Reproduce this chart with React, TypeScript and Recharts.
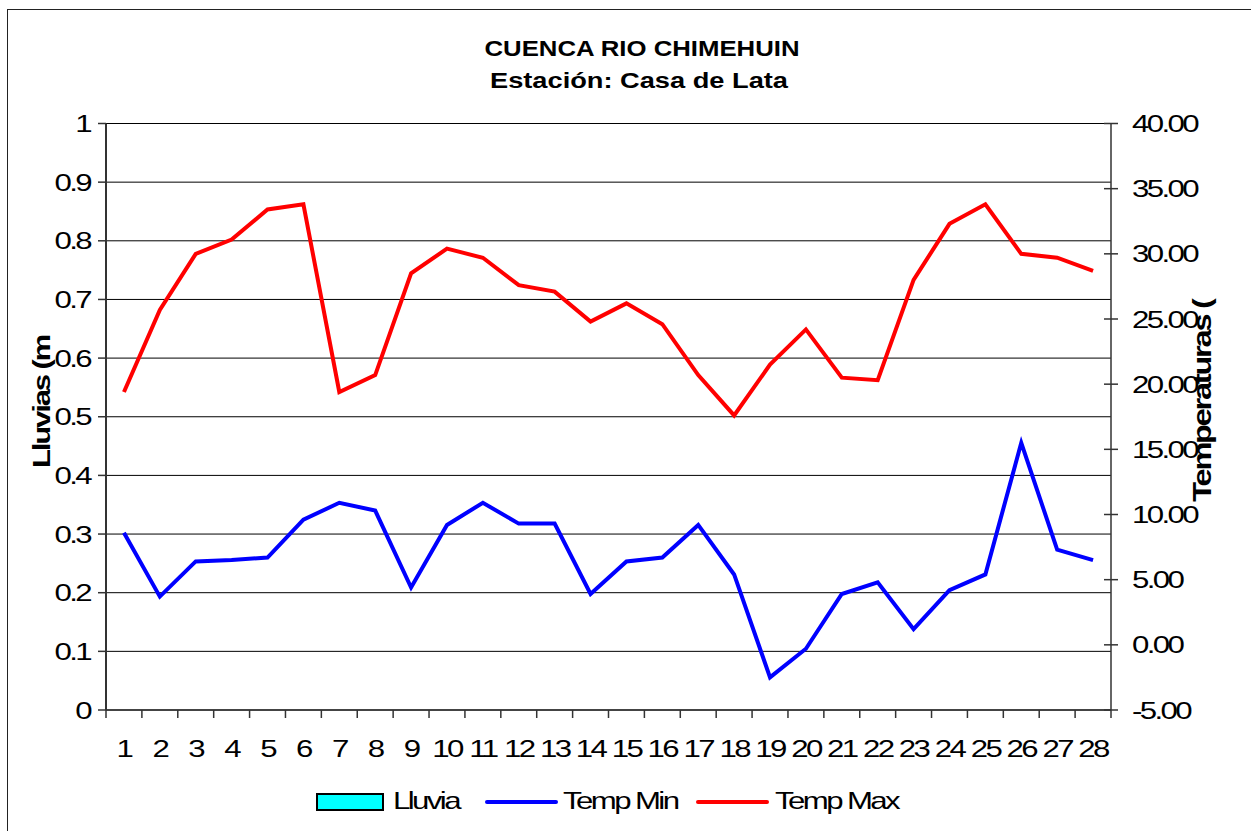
import React from 'react';
import { ComposedChart, Bar, Line, XAxis, YAxis, CartesianGrid, Legend } from 'recharts';

const days = ['1','2','3','4','5','6','7','8','9','10','11','12','13','14','15','16','17','18','19','20','21','22','23','24','25','26','27','28'];
const lluvia = [0,0,0,0,0,0,0,0,0,0,0,0,0,0,0,0,0,0,0,0,0,0,0,0,0,0,0,0];
const tempMin = [8.6, 3.7, 6.4, 6.5, 6.7, 9.6, 10.9, 10.3, 4.4, 9.2, 10.9, 9.3, 9.3, 3.9, 6.4, 6.7, 9.2, 5.4, -2.5, -0.3, 3.9, 4.8, 1.2, 4.2, 5.4, 15.5, 7.3, 6.5];
const tempMax = [19.4, 25.7, 30.0, 31.1, 33.4, 33.8, 19.4, 20.7, 28.5, 30.4, 29.7, 27.6, 27.1, 24.8, 26.2, 24.6, 20.7, 17.6, 21.5, 24.2, 20.5, 20.3, 28.0, 32.3, 33.8, 30.0, 29.7, 28.7];
const leftTicks = [0, 0.1, 0.2, 0.3, 0.4, 0.5, 0.6, 0.7, 0.8, 0.9, 1];
const rightTicks = [-5, 0, 5, 10, 15, 20, 25, 30, 35, 40];
const seriesNames = ['Lluvia', 'Temp Min', 'Temp Max'];
const titleLines = ['CUENCA RIO CHIMEHUIN', 'Estación: Casa de Lata'];
const leftLabel = 'Lluvias (m';
const rightLabel = 'Temperaturas (';

const data = days.map((d, i) => ({ day: d, lluvia: lluvia[i], tmin: tempMin[i], tmax: tempMax[i] }));

const FONT = '"Liberation Sans", Arial, sans-serif';
const W = 1251;
const H = 831;
const LEFT_W = 106;
const RIGHT_W = 140;
const PLOT_W = W - LEFT_W - RIGHT_W;
const BAND = PLOT_W / days.length;

function StretchText(props: any) {
  const { x, y, anchor = 'start', children, size = 24, sx = 1.3, ls = -2, weight = 'normal', dy = '0.36em' } = props;
  return (
    <text
      transform={`translate(${x},${y}) scale(${sx},1)`}
      textAnchor={anchor}
      fontSize={size}
      fontWeight={weight}
      letterSpacing={ls}
      dy={dy}
      fill="#000"
      fontFamily={FONT}
    >
      {children}
    </text>
  );
}

const LeftTick = (props: any) => {
  const { x, y, payload } = props;
  return <StretchText x={x} y={y} anchor="end">{String(payload.value)}</StretchText>;
};

const RightTick = (props: any) => {
  const { x, y, payload } = props;
  const ax = x - 21;
  return (
    <g>
      <line x1={ax - 7} x2={ax + 7} y1={y} y2={y} stroke="#333" strokeWidth={1.5} />
      <StretchText x={x} y={y} anchor="start">{Number(payload.value).toFixed(2)}</StretchText>
    </g>
  );
};

const XTick = (props: any) => {
  const { x, y, payload, index } = props;
  const axisY = y - 10;
  const left = x - BAND / 2;
  const right = x + BAND / 2;
  return (
    <g>
      <line x1={left} x2={left} y1={axisY} y2={axisY + 8} stroke="#333" strokeWidth={1.5} />
      {index === days.length - 1 ? (
        <line x1={right} x2={right} y1={axisY} y2={axisY + 8} stroke="#333" strokeWidth={1.5} />
      ) : null}
      <StretchText x={x} y={axisY + 47} anchor="middle" dy="0">{payload.value}</StretchText>
    </g>
  );
};

const symbolX = [317, 487, 698];
const textX = [393, 563, 775];

const renderLegend = (props: any) => {
  const { payload = [] } = props;
  return (
    <svg width={W} height={44} style={{ display: 'block' }}>
      {payload.map((entry: any) => {
        const i = seriesNames.indexOf(entry.value);
        if (i < 0) return null;
        const sx = symbolX[i];
        return (
          <g key={entry.value}>
            {i === 0 ? (
              <rect x={sx} y={14} width={66} height={16} fill={entry.color} stroke="#000" strokeWidth={2} />
            ) : (
              <line x1={sx} x2={sx + 69} y1={22} y2={22} stroke={entry.color} strokeWidth={4} strokeLinecap="round" />
            )}
            <StretchText x={textX[i]} y={29} anchor="start" dy="0">{entry.value}</StretchText>
          </g>
        );
      })}
    </svg>
  );
};

export default function App() {
  return (
    <div style={{ position: 'absolute', left: 0, top: 0, width: W, height: H, overflow: 'hidden', background: '#fff', fontFamily: FONT }}>
      <div style={{ position: 'absolute', left: 7, top: 9, width: 1300, height: 900, border: '1.5px solid #222', boxSizing: 'border-box' }} />
      <div style={{ position: 'absolute', left: 0, top: 0 }}>
        <ComposedChart width={W} height={H} data={data} margin={{ top: 123.5, right: 0, bottom: 0, left: 0 }}>
          <CartesianGrid yAxisId="left" vertical={false} stroke="#000" strokeWidth={1} />
          <XAxis
            dataKey="day"
            interval={0}
            height={121}
            tickLine={false}
            tickSize={8}
            tickMargin={2}
            axisLine={{ stroke: '#444', strokeWidth: 2 }}
            tick={<XTick />}
          />
          <YAxis
            yAxisId="left"
            width={LEFT_W}
            domain={[0, 1]}
            ticks={leftTicks}
            interval={0}
            tickSize={8}
            tickMargin={8}
            stroke="#333"
            axisLine={{ stroke: '#333', strokeWidth: 2 }}
            tickLine={{ stroke: '#333', strokeWidth: 1.5 }}
            tick={<LeftTick />}
          />
          <YAxis
            yAxisId="right"
            orientation="right"
            width={RIGHT_W}
            domain={[-5, 40]}
            ticks={rightTicks}
            interval={0}
            tickSize={7}
            tickMargin={14}
            tickLine={false}
            axisLine={{ stroke: '#333', strokeWidth: 1.5 }}
            tick={<RightTick />}
          />
          <Legend
            layout="horizontal"
            verticalAlign="middle"
            align="center"
            wrapperStyle={{ position: 'absolute', left: 0, top: 780, width: W, height: 44 }}
            content={renderLegend}
          />
          <Bar yAxisId="left" dataKey="lluvia" name="Lluvia" fill="#00FFFF" stroke="#000" isAnimationActive={false} />
          <Line yAxisId="right" type="linear" dataKey="tmin" name="Temp Min" stroke="#0000FF" strokeWidth={4} dot={false} activeDot={false} isAnimationActive={false} />
          <Line yAxisId="right" type="linear" dataKey="tmax" name="Temp Max" stroke="#FF0000" strokeWidth={4} dot={false} activeDot={false} isAnimationActive={false} />
        </ComposedChart>
      </div>
      <svg width={W} height={H} style={{ position: 'absolute', left: 0, top: 0, pointerEvents: 'none' }}>
        <text x={642} y={56} textAnchor="middle" fontSize={22} fontWeight="bold" fontFamily={FONT} textLength={315} lengthAdjust="spacingAndGlyphs" fill="#000">{titleLines[0]}</text>
        <text x={639} y={88} textAnchor="middle" fontSize={22} fontWeight="bold" fontFamily={FONT} textLength={298} lengthAdjust="spacingAndGlyphs" fill="#000">{titleLines[1]}</text>
        <text transform="translate(50,402) rotate(-90) scale(1.3,1)" textAnchor="middle" fontSize={24} fontWeight="bold" letterSpacing={-1.7} fontFamily={FONT} fill="#000">{leftLabel}</text>
        <text transform="translate(1211,401) rotate(-90) scale(1.3,1)" textAnchor="middle" fontSize={25} fontWeight="bold" letterSpacing={-1.7} fontFamily={FONT} fill="#000">{rightLabel}</text>
      </svg>
    </div>
  );
}
